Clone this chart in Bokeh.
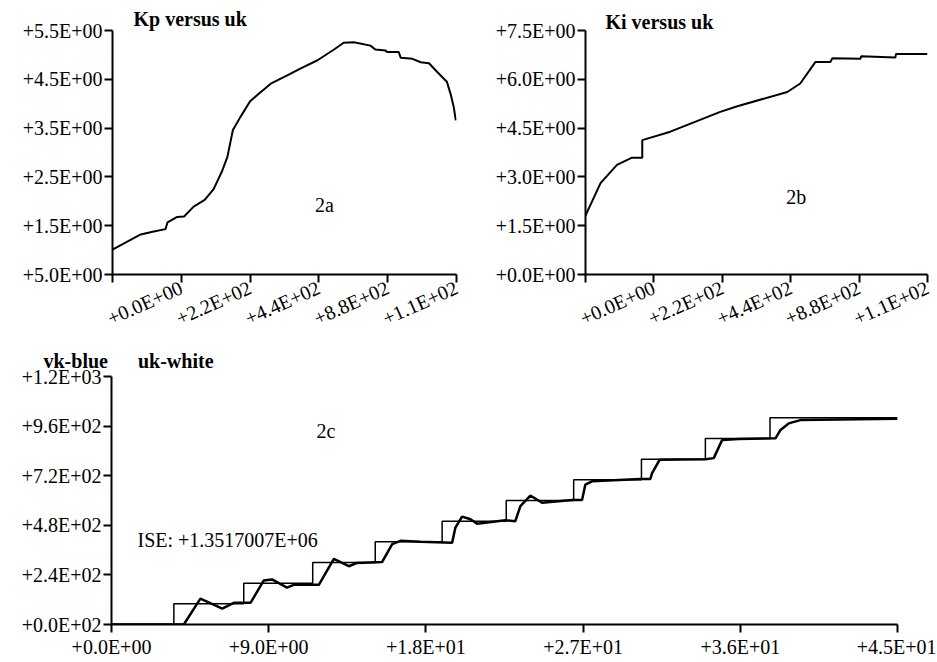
from bokeh.plotting import figure
from bokeh.models import Range1d, FixedTicker, Label, Title
from bokeh.layouts import column, row
from bokeh.embed import file_html
from bokeh.resources import INLINE

# ---- data ----
# 2a: Kp versus uk (x in tick units 0..5)
kp_x = [0.0, 0.41, 0.60, 0.77, 0.80, 0.94, 1.04, 1.18, 1.34, 1.47, 1.59, 1.67, 1.75,
        1.86, 2.00, 2.13, 2.30, 2.54, 2.73, 2.98, 3.22, 3.36, 3.51, 3.75, 3.82, 3.97,
        3.99, 4.16, 4.19, 4.36, 4.48, 4.60, 4.72, 4.86, 4.92, 4.96, 4.99]
kp_y = [1.01, 1.32, 1.38, 1.43, 1.57, 1.68, 1.69, 1.89, 2.03, 2.25, 2.61, 2.91, 3.46,
        3.73, 4.05, 4.21, 4.41, 4.58, 4.72, 4.89, 5.11, 5.25, 5.26, 5.19, 5.11, 5.09,
        5.06, 5.06, 4.94, 4.92, 4.85, 4.83, 4.65, 4.45, 4.17, 3.93, 3.66]

# 2b: Ki versus uk
ki_x = [0.0, 0.22, 0.46, 0.68, 0.83, 0.83, 1.24, 1.97, 2.22, 2.95, 3.14, 3.36, 3.58,
        3.61, 4.02, 4.03, 4.53, 4.54, 5.0]
ki_y = [1.81, 2.81, 3.37, 3.59, 3.59, 4.13, 4.39, 5.00, 5.17, 5.61, 5.87, 6.53, 6.53,
        6.65, 6.63, 6.71, 6.67, 6.78, 6.78]

# tick labels of the top charts (as printed in the picture)
top_x_ticks = [0, 1, 2, 3, 4, 5]
top_x_labels = ["", "+0.0E+00", "+2.2E+02", "+4.4E+02", "+8.8E+02", "+1.1E+02"]
kp_y_ticks = [0.5, 1.5, 2.5, 3.5, 4.5, 5.5]
kp_y_labels = ["+5.0E+00", "+1.5E+00", "+2.5E+00", "+3.5E+00", "+4.5E+00", "+5.5E+00"]
ki_y_ticks = [0.0, 1.5, 3.0, 4.5, 6.0, 7.5]
ki_y_labels = ["+0.0E+00", "+1.5E+00", "+3.0E+00", "+4.5E+00", "+6.0E+00", "+7.5E+00"]

# 2c: reference uk (steps) and response vk versus time
uk_t = [0, 3.57, 7.57, 11.52, 15.1, 18.93, 22.6, 26.46, 30.34, 34.0, 37.7, 45.0]
uk_v = [0, 100, 200, 300, 400, 500, 600, 700, 800, 900, 1000, 1000]
vk_t = [0, 4.14, 5.09, 6.34, 7.00, 7.96, 8.72, 9.19, 10.05, 10.43, 11.87, 12.73, 13.59,
        14.06, 15.49, 16.07, 16.54, 17.69, 19.50, 19.69, 20.07, 20.55, 20.93, 22.55,
        23.12, 23.41, 23.98, 24.65, 26.37, 26.94, 27.13, 27.51, 30.28, 30.85, 30.95,
        31.38, 34.00, 34.48, 34.96, 35.91, 38.01, 38.30, 38.77, 39.44, 45.0]
vk_v = [0, 0, 125, 77, 105, 105, 213, 218, 178, 192, 192, 317, 282,
        298, 302, 389, 405, 400, 395, 469, 522, 509, 488, 504,
        500, 573, 624, 589, 602, 602, 677, 693, 704, 704, 733,
        797, 800, 805, 893, 898, 901, 941, 973, 989, 995]
c_x_ticks = [0, 9, 18, 27, 36, 45]
c_x_labels = ["+0.0E+00", "+9.0E+00", "+1.8E+01", "+2.7E+01", "+3.6E+01", "+4.5E+01"]
c_y_ticks = [0, 240, 480, 720, 960, 1200]
c_y_labels = ["+0.0E+02", "+2.4E+02", "+4.8E+02", "+7.2E+02", "+9.6E+02", "+1.2E+03"]

FONT = "Liberation Serif"
TICK_SIZE = "20px"


def style(p, xt, xl, yt, yl, rot=None, xstand=3):
    p.outline_line_color = None
    p.xgrid.visible = False
    p.ygrid.visible = False
    p.background_fill_color = "white"
    p.border_fill_color = "white"
    for ax, t, l in ((p.xaxis[0], xt, xl), (p.yaxis[0], yt, yl)):
        ax.ticker = FixedTicker(ticks=t)
        ax.major_label_overrides = {k: v for k, v in zip(t, l)}
        ax.axis_line_width = 2
        ax.axis_line_color = "black"
        ax.major_tick_line_width = 2
        ax.major_tick_line_color = "black"
        ax.major_tick_out = 8
        ax.major_tick_in = 0
        ax.minor_tick_line_color = None
        ax.major_label_text_font = FONT
        ax.major_label_text_font_size = TICK_SIZE
        ax.major_label_text_color = "black"
        ax.major_label_standoff = 2
    p.xaxis[0].major_label_standoff = xstand
    if rot is not None:
        p.xaxis[0].major_label_orientation = rot


def title(p, text, offset, standoff):
    p.add_layout(Title(text=text, align="left", offset=offset, standoff=standoff,
                       text_font=FONT, text_font_size="20px", text_font_style="bold",
                       text_color="black"), "above")


def lab(p, x, y, text, align="left", baseline="middle"):
    p.add_layout(Label(x=x, y=y, text=text, text_font=FONT, text_font_size="20px",
                       text_align=align, text_baseline=baseline, text_color="black"))


# ---- 2a ----
p1 = figure(width=470, height=342, x_range=Range1d(0, 5), y_range=Range1d(0.5, 5.5),
            output_backend="svg", toolbar_location=None,
            min_border_left=112, min_border_right=14, min_border_top=30, min_border_bottom=67)
p1.line(kp_x, kp_y, line_color="black", line_width=2)
style(p1, top_x_ticks, top_x_labels, kp_y_ticks, kp_y_labels, rot=0.42, xstand=4)
title(p1, "Kp versus uk", 21, 2)
lab(p1, 3.08, 1.93, "2a", align="center")

# ---- 2b ----
p2 = figure(width=466, height=342, x_range=Range1d(0, 5), y_range=Range1d(0, 7.5),
            output_backend="svg", toolbar_location=None,
            min_border_left=115, min_border_right=9, min_border_top=30, min_border_bottom=67)
p2.line(ki_x, ki_y, line_color="black", line_width=2)
style(p2, top_x_ticks, top_x_labels, ki_y_ticks, ki_y_labels, rot=0.42, xstand=4)
title(p2, "Ki versus uk", 20, -5)
lab(p2, 3.08, 2.39, "2b", align="center")

# ---- 2c ----
p3 = figure(width=936, height=318, x_range=Range1d(0, 45), y_range=Range1d(0, 1200),
            output_backend="svg", toolbar_location=None,
            min_border_left=111, min_border_right=39, min_border_top=34, min_border_bottom=36)
p3.step(uk_t, uk_v, mode="after", line_color="black", line_width=1.5)
p3.line(vk_t, vk_v, line_color="black", line_width=2.5)
style(p3, c_x_ticks, c_x_labels, c_y_ticks, c_y_labels, xstand=3)
title(p3, "vk-blue\u00a0\u00a0\u00a0\u00a0\u00a0\u00a0uk-white", -68, 10)
lab(p3, 12.28, 934, "2c", align="center")
lab(p3, 1.49, 410, "ISE: +1.3517007E+06")

layout = column(row(p1, p2), p3)
open("out.html", "w").write(file_html(layout, INLINE))
